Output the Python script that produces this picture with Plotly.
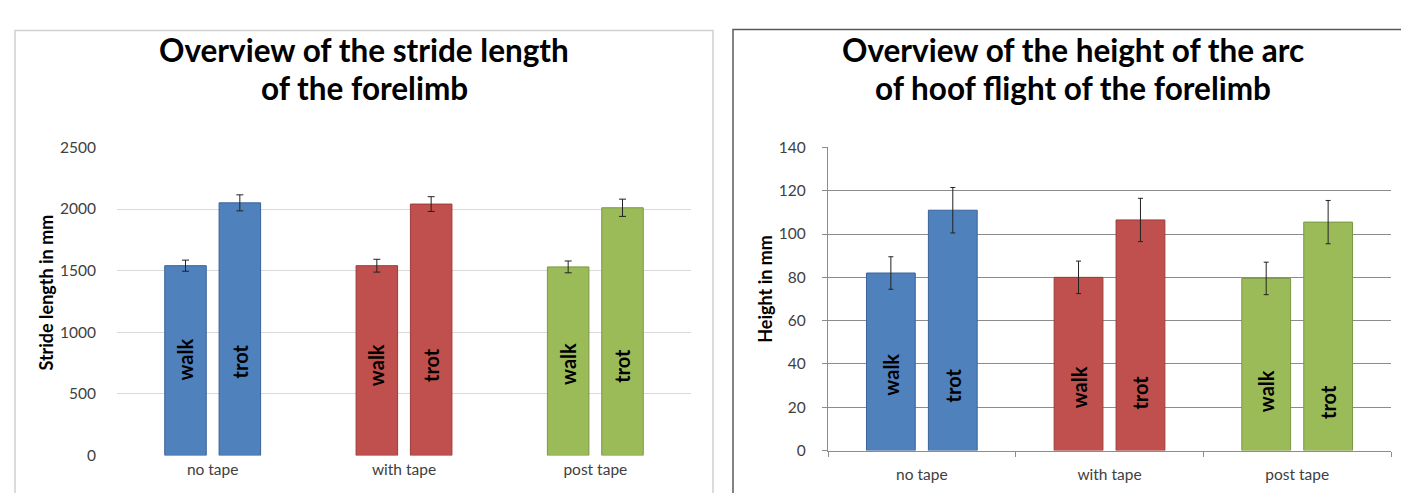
import plotly.graph_objects as go

# ---------------- data ----------------
categories = ["no tape", "with tape", "post tape"]
cat_colors = ["#4F81BD", "#C0504D", "#9BBB59"]
cat_edges = ["#3A639A", "#9B3C3A", "#7A9744"]

stride_walk = [1540, 1540, 1530]
stride_walk_err = [45, 52, 48]
stride_trot = [2050, 2040, 2010]
stride_trot_err = [65, 60, 70]

height_walk = [82, 80, 79.5]
height_walk_err = [7.5, 7.5, 7.5]
height_trot = [111, 106.5, 105.5]
height_trot_err = [10.5, 10, 10]

left_yticks = [0, 500, 1000, 1500, 2000, 2500]
right_yticks = [0, 20, 40, 60, 80, 100, 120, 140]

# label anchor heights (layout) for the rotated "walk"/"trot" texts
left_label_walk_y = [774, 731, 743]
left_label_trot_y = [762, 735, 723]
right_label_walk_y = [35, 29, 27.5]
right_label_trot_y = [30, 27, 22.5]

W, H = 1409, 493
FONT = "Lato"


def px(x):
    return x / W


def py(y):
    return 1 - y / H


fig = go.Figure()

idx = list(range(len(categories)))

# geometry (layout, in category units)
L_W, L_C = 0.217, 0.142
R_W, R_C = 0.26, 0.165


def add_bars(xa, ya, walk, walk_err, trot, trot_err, bw, bc, capw):
    for vals, errs, sign in ((walk, walk_err, -1), (trot, trot_err, 1)):
        fig.add_trace(go.Bar(
            x=idx, y=vals, xaxis=xa, yaxis=ya,
            width=bw, offset=sign * bc - bw / 2,
            marker=dict(color=cat_colors, line=dict(color=cat_edges, width=1)),
            error_y=dict(type="data", array=errs, visible=True,
                         color="#222222", thickness=1, width=capw),
            showlegend=False, hoverinfo="skip",
        ))


add_bars("x", "y", stride_walk, stride_walk_err, stride_trot, stride_trot_err, L_W, L_C, 3.5)
add_bars("x2", "y2", height_walk, height_walk_err, height_trot, height_trot_err, R_W, R_C, 2.5)

annotations = []


def add_labels(xref, yref, wy, ty, bc, size):
    for i in idx:
        for txt, yy, sign in (("walk", wy[i], -1), ("trot", ty[i], 1)):
            annotations.append(dict(
                x=i + sign * bc, y=yy, xref=xref, yref=yref,
                text="<b>%s</b>" % txt, textangle=-90, showarrow=False,
                font=dict(family=FONT, size=size, color="black"),
                xanchor="center", yanchor="middle",
            ))


add_labels("x", "y", left_label_walk_y, left_label_trot_y, L_C, 20)
add_labels("x2", "y2", right_label_walk_y, right_label_trot_y, R_C, 20)

# titles
TSIZE = 31.5
for cx, lines in ((356, ["Overview of the stride length", "of the forelimb"]),
                  (1065, ["Overview of the height of the arc", "of hoof flight of the forelimb"])):
    for j, line in enumerate(lines):
        annotations.append(dict(
            x=px(cx), y=py(33 + 40 * j), xref="paper", yref="paper",
            text="<b>%s</b>" % line, showarrow=False,
            font=dict(family=FONT, size=TSIZE, color="black"),
            xanchor="center", yanchor="middle",
        ))

# axis titles
annotations.append(dict(x=px(38), y=py(285), xref="paper", yref="paper",
                        text="<b>Stride length in mm</b>", textangle=-90, showarrow=False,
                        font=dict(family=FONT, size=18, color="black"),
                        xanchor="center", yanchor="middle"))
annotations.append(dict(x=px(757), y=py(281), xref="paper", yref="paper",
                        text="<b>Height in mm</b>", textangle=-90, showarrow=False,
                        font=dict(family=FONT, size=18, color="black"),
                        xanchor="center", yanchor="middle"))

shapes = [
    dict(type="rect", xref="paper", yref="paper", x0=px(7), x1=px(705), y0=py(500), y1=py(13),
         line=dict(color="#D0D0D0", width=1.5), fillcolor="rgba(0,0,0,0)", layer="below"),
    dict(type="rect", xref="paper", yref="paper", x0=px(725), x1=px(1405), y0=py(500), y1=py(12),
         line=dict(color="#5A5A5A", width=1.5), fillcolor="rgba(0,0,0,0)", layer="below"),
]

tickfont = dict(family=FONT, size=15.5, color="#404040")

fig.update_layout(
    width=W, height=H,
    margin=dict(l=0, r=0, t=0, b=0),
    paper_bgcolor="white", plot_bgcolor="white",
    barmode="overlay",
    annotations=annotations, shapes=shapes,
    xaxis=dict(domain=[px(109), px(683)], range=[-0.5, 2.5],
               tickmode="array", tickvals=idx, ticktext=categories,
               showgrid=False, zeroline=False, showline=False, ticks="",
               tickfont=tickfont, ticklabelstandoff=3, anchor="y"),
    yaxis=dict(domain=[1 - 454 / H, py(134.3)], range=[0, 2500],
               tickmode="array", tickvals=left_yticks,
               showgrid=True, gridcolor="#DADADA", gridwidth=1,
               zeroline=False, showline=False, ticks="",
               tickfont=tickfont, ticklabelstandoff=20, anchor="x"),
    xaxis2=dict(domain=[px(820), px(1383)], range=[-0.5, 2.5],
                tickmode="array", tickvals=[-0.5, 0.5, 1.5, 2.5], ticktext=["", "", "", ""],
                showgrid=False, zeroline=False, showline=True, linecolor="#8C8C8C", linewidth=1.3,
                ticks="outside", ticklen=5, tickcolor="#8C8C8C", anchor="y2"),
    xaxis3=dict(domain=[px(820), px(1383)], range=[-0.5, 2.5], overlaying="x2",
                tickmode="array", tickvals=idx, ticktext=categories,
                showgrid=False, zeroline=False, showline=False, ticks="",
                tickfont=tickfont, ticklabelstandoff=13, anchor="y2"),
    yaxis2=dict(domain=[1 - 449 / H, py(134.3)], range=[0, 140],
                tickmode="array", tickvals=right_yticks,
                showgrid=True, gridcolor="#8C8C8C", gridwidth=1.3,
                zeroline=False, showline=True, linecolor="#8C8C8C", linewidth=1.3,
                ticks="outside", ticklen=5, tickcolor="#8C8C8C",
                tickfont=tickfont, ticklabelstandoff=13, anchor="x2"),
)

# dummy invisible trace to activate xaxis3
fig.add_trace(go.Scatter(x=[0], y=[0], xaxis="x3", yaxis="y2", mode="markers",
                         marker=dict(opacity=0), showlegend=False, hoverinfo="skip"))

fig.write_html("out.html")
